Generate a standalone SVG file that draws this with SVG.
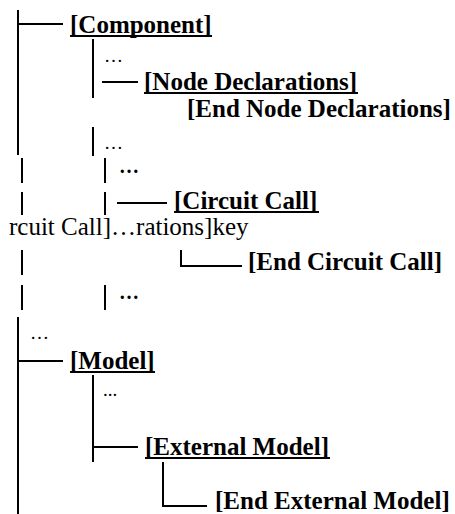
<svg xmlns="http://www.w3.org/2000/svg" width="455" height="514" viewBox="0 0 455 514">
<style>
.b{font-family:'Liberation Serif','Times New Roman',serif;font-weight:bold;font-size:25px;fill:#000}
.r{font-family:'Liberation Serif','Times New Roman',serif;font-size:25px;fill:#000}
.d{font-family:'Liberation Serif','Times New Roman',serif;font-size:19px;fill:#000}
.bd{font-family:'Liberation Serif','Times New Roman',serif;font-weight:bold;font-size:20px;fill:#000}
.ln{stroke:#000;stroke-width:2;fill:none}
.ul{stroke:#000;stroke-width:2.2;fill:none}
</style>
<rect width="455" height="514" fill="#fff"/>
<g id="connectors">
  <path class="ln" d="M18 10V155M18 24H63"/>
  <path class="ln" d="M93 39V98M102 82H138"/>
  <path class="ln" d="M93 127V156"/>
  <path class="ln" d="M22 158V183M105 158V183"/>
  <path class="ln" d="M22 192V215M105 192V215M117 203H167"/>
  <path class="ln" d="M22 250V275M181 250V266H242"/>
  <path class="ln" d="M22 285V310M105 285V310"/>
  <path class="ln" d="M18 317V514M18 361H63"/>
  <path class="ln" d="M93 375V462M93 447H138"/>
  <path class="ln" d="M163 462V506H207"/>
</g>
<g id="component">
  <text class="b" x="70" y="33">[Component]</text>
  <line class="ul" x1="70" y1="36" x2="212" y2="36"/>
</g>
<g id="ellipsis1"><text class="d" x="104" y="62">…</text></g>
<g id="node-declarations">
  <text class="b" x="144" y="90">[Node Declarations]</text>
  <line class="ul" x1="144" y1="93" x2="358" y2="93"/>
</g>
<g id="end-node-declarations"><text class="b" x="187" y="117">[End Node Declarations]</text></g>
<g id="ellipsis2"><text class="d" x="104" y="149">…</text></g>
<g id="ellipsis3"><text class="bd" x="119" y="173">…</text></g>
<g id="circuit-call">
  <text class="b" x="174" y="209">[Circuit Call]</text>
  <line class="ul" x1="174" y1="212" x2="319" y2="212"/>
</g>
<g id="stray-text"><text class="r" x="9" y="235">rcuit Call]…rations]key</text></g>
<g id="end-circuit-call"><text class="b" x="248" y="270">[End Circuit Call]</text></g>
<g id="ellipsis4"><text class="bd" x="119" y="299">…</text></g>
<g id="ellipsis5"><text class="d" x="30" y="339">…</text></g>
<g id="model">
  <text class="b" x="70" y="369">[Model]</text>
  <line class="ul" x1="70" y1="372" x2="155" y2="372"/>
</g>
<g id="ellipsis6"><text class="d" x="103" y="396">...</text></g>
<g id="external-model">
  <text class="b" x="145" y="455">[External Model]</text>
  <line class="ul" x1="145" y1="458" x2="330" y2="458"/>
</g>
<g id="end-external-model"><text class="b" x="215" y="509">[End External Model]</text></g>
</svg>
